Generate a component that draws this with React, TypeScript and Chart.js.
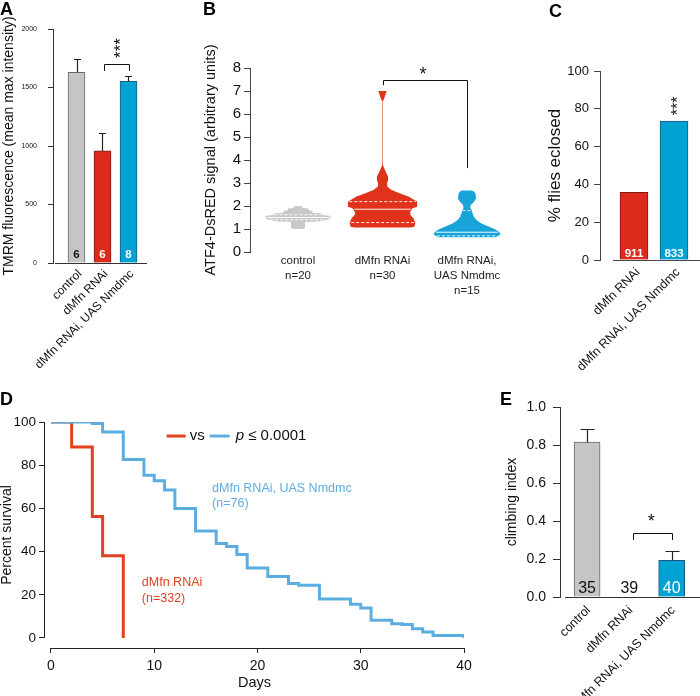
import React, { useEffect, useRef } from "react";
import { Chart, registerables } from "chart.js";

Chart.register(...registerables);

const FAM = "'Liberation Sans', Arial, Helvetica, sans-serif";
const CW = 700;
const CH = 696;

// ================= DATA =================
// Panel A - TMRM fluorescence
const aCategories = ["control", "dMfn RNAi", "dMfn RNAi, UAS Nmdmc"];
const aMeans = [1630, 958, 1553];
const aErrors = [110, 154, 42];
const aCounts = ["6", "6", "8"];
const aYTicks = [0, 500, 1000, 1500, 2000];
const aBracketX = [1.06, 2.02];
const aBracketY = [1641, 1701, 1641];
const aStarsAt = [1.56, 1838];

// Panel B - ATF4-DsRED violins
const bCategories = [["control", "n=20"], ["dMfn RNAi", "n=30"], ["dMfn RNAi,", "UAS Nmdmc", "n=15"]];
const bYTicks = [0, 1, 2, 3, 4, 5, 6, 7, 8];
const bControlLevels = [1.0, 1.04, 1.3, 1.33, 1.38, 1.42, 1.5, 1.58, 1.61, 1.68, 1.7, 1.79, 1.81, 1.89, 1.91, 1.98, 2.0];
const bControlDensity = [0.14, 0.2, 0.2, 0.57, 0.77, 0.89, 0.94, 0.91, 0.71, 0.66, 0.43, 0.4, 0.31, 0.29, 0.14, 0.11, 0.03];
const bRnaiLevels = [1.06, 1.1, 1.25, 1.46, 1.61, 1.75, 1.9, 1.97, 2.19, 2.26, 2.41, 2.55, 2.7, 2.84, 2.99, 3.13, 3.28, 3.42, 3.57, 3.71, 3.8, 6.58, 6.6, 7.0];
const bRnaiDensity = [0.8, 0.91, 0.94, 0.89, 0.8, 0.79, 0.86, 0.99, 0.99, 0.91, 0.74, 0.49, 0.26, 0.14, 0.13, 0.16, 0.16, 0.11, 0.07, 0.03, 0.008, 0.008, 0.03, 0.12];
const bRescueLevels = [0.64, 0.7, 0.78, 0.88, 0.99, 1.1, 1.25, 1.39, 1.54, 1.68, 1.83, 1.94, 2.04, 2.19, 2.33, 2.55, 2.63, 2.67];
const bRescueDensity = [0.8, 0.89, 0.96, 0.91, 0.8, 0.63, 0.4, 0.27, 0.19, 0.16, 0.13, 0.09, 0.11, 0.2, 0.26, 0.24, 0.2, 0.14];
const bQuartiles = [[1.4, 1.5, 1.62], [1.28, 1.86, 2.19], [0.7, 0.86, 1.8]];
const bBracketX = [2, 3];
const bBracketY = [7.25, 7.5, 3.65];
const bStarAt = [2.48, 7.87];

// Panel C - % flies eclosed
const cCategories = ["dMfn RNAi", "dMfn RNAi, UAS Nmdmc"];
const cPercent = [35.8, 73.5];
const cCounts = ["911", "833"];
const cYTicks = [0, 20, 40, 60, 80, 100];
const cStarsAt = [1.02, 81.5];

// Panel D - survival
const dDayTicks = [0, 10, 20, 30, 40];
const dSurvivalTicks = [0, 20, 40, 60, 80, 100];
const dRnaiDays = [0, 2, 4, 5, 7];
const dRnaiSurvival = [100, 88.4, 56.3, 38.1, 0];
const dRescueDays = [0, 4, 5, 7, 9, 10, 11, 12, 14, 16, 17, 18, 19, 21, 23, 24, 26, 29, 30, 31, 33, 34, 35, 36, 37, 40];
const dRescueSurvival = [100, 99.3, 95.4, 82.6, 75.3, 72.8, 68.5, 59.9, 49.5, 43.8, 42.4, 38.6, 32.4, 28.5, 25.2, 24.4, 18.1, 15.6, 13.9, 8.2, 6.6, 6.2, 4.3, 2.8, 1.2, 0];
const dLegendAt = [11.2, 93.5];
const dRescueLabel = ["dMfn RNAi, UAS Nmdmc", "(n=76)"];
const dRescueLabelAt = [15.6, 69.4];
const dRnaiLabel = ["dMfn RNAi", "(n=332)"];
const dRnaiLabelAt = [8.8, 25.8];

// Panel E - climbing index
const eCategories = ["control", "dMfn RNAi", "dMfn RNAi, UAS Nmdmc"];
const eMeans = [0.815, 0, 0.193];
const eErrors = [0.071, 0, 0.048];
const eCounts = ["35", "39", "40"];
const eYTicks = [0, 0.2, 0.4, 0.6, 0.8, 1.0];
const eBracketX = [1.09, 2];
const eBracketY = [0.3, 0.337, 0.3];
const eStarAt = [1.515, 0.416];

// ================= STYLE =================
const GREY = "#c5c5c5";
const GREY_EDGE = "#6a6a6a";
const RED = "#dc2b1c";
const RED_EDGE = "#7e1a10";
const BLUE = "#00a1d3";
const BLUE_EDGE = "#1b5a7c";
const D_RED = "#e2401f";
const D_BLUE = "#5caee0";
const INK = "#111";

Chart.defaults.font.family = FAM;

type Area = { left: number; top: number; right: number; bottom: number };

function pad(area: Area, yW: number, xH: number) {
  return { left: area.left - yW, top: area.top, right: CW - area.right, bottom: CH - area.bottom - xH };
}

function drawLetter(ctx: any, t: string, x: number, y: number) {
  ctx.save();
  ctx.font = `bold 18px ${FAM}`;
  ctx.fillStyle = "#000";
  ctx.textAlign = "left";
  ctx.textBaseline = "alphabetic";
  ctx.fillText(t, x, y);
  ctx.restore();
}

// draws asterisks so that the glyph centre lands on (px, py)
function drawStars(ctx: any, t: string, px: number, py: number, size: number, rotate: boolean) {
  ctx.save();
  ctx.font = `${size}px ${FAM}`;
  ctx.fillStyle = INK;
  const lift = 0.23 * size;
  if (rotate) {
    ctx.translate(px + lift, py);
    ctx.rotate(-Math.PI / 2);
  } else {
    ctx.translate(px, py + lift);
  }
  ctx.textAlign = "center";
  ctx.textBaseline = "middle";
  ctx.fillText(t, 0, 0);
  ctx.restore();
}

function drawBracket(ctx: any, xs: any, ys: any, bx: number[], by: number[]) {
  const x1 = Math.round(xs.getPixelForValue(bx[0])) + 0.5;
  const x2 = Math.round(xs.getPixelForValue(bx[1])) + 0.5;
  const yt = Math.round(ys.getPixelForValue(by[1])) + 0.5;
  ctx.save();
  ctx.strokeStyle = INK;
  ctx.lineWidth = 1;
  ctx.beginPath();
  ctx.moveTo(x1, ys.getPixelForValue(by[0]));
  ctx.lineTo(x1, yt);
  ctx.lineTo(x2, yt);
  ctx.lineTo(x2, ys.getPixelForValue(by[2]));
  ctx.stroke();
  ctx.restore();
}

// ================= BAR PANELS =================
function barConfig(cfg: any) {
  const extras = {
    id: "barExtras",
    afterDatasetsDraw(chart: any) {
      const ctx = chart.ctx;
      const xs = chart.scales.x;
      const ys = chart.scales.y;
      const area = chart.chartArea;
      ctx.save();
      // x axis base line
      const yb = Math.round(ys.getPixelForValue(0)) + 0.5;
      ctx.strokeStyle = cfg.axisColor;
      ctx.lineWidth = 1;
      ctx.beginPath();
      ctx.moveTo(xs.getPixelForValue(cfg.baseFrom), yb);
      ctx.lineTo(area.right, yb);
      ctx.stroke();
      // error bars (upper only)
      ctx.strokeStyle = "#222";
      ctx.lineWidth = 1.2;
      cfg.means.forEach((m: number, i: number) => {
        const e = cfg.errors ? cfg.errors[i] : 0;
        if (!e) return;
        const x = Math.round(xs.getPixelForValue(i)) + 0.5;
        const y1 = ys.getPixelForValue(m);
        const y2 = Math.round(ys.getPixelForValue(m + e)) + 0.5;
        ctx.beginPath();
        ctx.moveTo(x, y1);
        ctx.lineTo(x, y2);
        ctx.moveTo(x - cfg.capHalf, y2);
        ctx.lineTo(x + cfg.capHalf, y2);
        ctx.stroke();
      });
      // n counts
      ctx.font = `${cfg.countFont} ${FAM}`;
      ctx.textAlign = "center";
      ctx.textBaseline = "alphabetic";
      cfg.counts.forEach((t: string, i: number) => {
        ctx.fillStyle = cfg.countColors[i];
        ctx.fillText(t, xs.getPixelForValue(i), ys.getPixelForValue(0) - cfg.countLift);
      });
      ctx.restore();
      if (cfg.bracketX) drawBracket(ctx, xs, ys, cfg.bracketX, cfg.bracketY);
      if (cfg.starsAt) {
        drawStars(ctx, cfg.stars, xs.getPixelForValue(cfg.starsAt[0]), ys.getPixelForValue(cfg.starsAt[1]), cfg.starSize, cfg.starRotate);
      }
      drawLetter(ctx, cfg.letter[0], cfg.letter[1], cfg.letter[2]);
    },
  };
  return {
    type: "bar",
    data: {
      datasets: [
        {
          data: cfg.means.map((v: number, i: number) => ({ x: i, y: v })),
          backgroundColor: cfg.fills,
          borderColor: cfg.edges,
          borderWidth: 1,
          barThickness: cfg.barPx,
        },
      ],
    },
    options: {
      responsive: false,
      animation: false,
      events: [],
      layout: { padding: pad(cfg.area, cfg.yW, cfg.xH) },
      plugins: { legend: { display: false }, tooltip: { enabled: false } },
      scales: {
        x: {
          type: "linear",
          min: cfg.xMin,
          max: cfg.xMax,
          offset: false,
          afterBuildTicks: (s: any) => {
            s.ticks = cfg.cats.map((_: string, i: number) => ({ value: i }));
          },
          afterFit: (s: any) => {
            s.height = cfg.xH;
          },
          grid: { display: false, drawTicks: false, offset: false },
          border: { display: false },
          ticks: {
            autoSkip: false,
            minRotation: 45,
            maxRotation: 45,
            padding: cfg.xPad,
            labelOffset: cfg.xLabelOffset,
            font: { family: FAM, size: cfg.xFont },
            color: INK,
            callback: (v: number) => cfg.cats[v],
          },
        },
        y: {
          min: 0,
          max: cfg.yMax,
          afterBuildTicks: (s: any) => {
            s.ticks = cfg.yTicks.map((v: number) => ({ value: v }));
          },
          afterFit: (s: any) => {
            s.width = cfg.yW;
          },
          grid: { drawOnChartArea: false, drawTicks: true, tickLength: cfg.yTickLen, color: cfg.axisColor, lineWidth: 1 },
          border: { display: true, color: cfg.axisColor, width: 1 },
          ticks: {
            padding: cfg.yPad,
            font: { family: FAM, size: cfg.yFont },
            color: INK,
            callback: cfg.yFormat,
          },
          title: {
            display: true,
            text: cfg.yTitle,
            font: { family: FAM, size: cfg.yTitleSize, lineHeight: 1.2 },
            color: INK,
            padding: { top: cfg.yTitlePad, bottom: 0 },
          },
        },
      },
    },
    plugins: [extras],
  };
}

function buildA() {
  return barConfig({
    cats: aCategories,
    means: aMeans,
    errors: aErrors,
    counts: aCounts,
    countColors: [INK, "#fff", "#fff"],
    countFont: "bold 11.5px",
    countLift: 5,
    fills: [GREY, RED, BLUE],
    edges: [GREY_EDGE, RED_EDGE, BLUE_EDGE],
    area: { left: 53, top: 29, right: 147, bottom: 263 },
    yW: 53,
    xH: 110,
    xMin: -0.904,
    xMax: 2.712,
    barPx: 17,
    yMax: 2000,
    yTicks: aYTicks,
    yFont: 7,
    yTickLen: 5,
    yPad: 11,
    yFormat: (v: number) => String(v),
    yTitle: "TMRM fluorescence (mean max intensity)",
    yTitleSize: 14,
    yTitlePad: 0.5,
    xFont: 12,
    xPad: 4,
    xLabelOffset: 3.5,
    capHalf: 3.5,
    axisColor: "#333",
    baseFrom: -0.83,
    bracketX: aBracketX,
    bracketY: aBracketY,
    stars: "***",
    starsAt: aStarsAt,
    starSize: 17,
    starRotate: true,
    letter: ["A", 0, 15],
  });
}

function buildC() {
  return barConfig({
    cats: cCategories,
    means: cPercent,
    errors: null,
    counts: cCounts,
    countColors: ["#fff", "#fff"],
    countFont: "bold 11.5px",
    countLift: 3.5,
    fills: [RED, BLUE],
    edges: [RED_EDGE, BLUE_EDGE],
    area: { left: 600, top: 71, right: 700, bottom: 260 },
    yW: 60,
    xH: 110,
    xMin: -0.85,
    xMax: 1.65,
    barPx: 28,
    yMax: 100,
    yTicks: cYTicks,
    yFont: 13,
    yTickLen: 6,
    yPad: 5,
    yFormat: (v: number) => String(v),
    yTitle: "% flies eclosed",
    yTitleSize: 17,
    yTitlePad: 5,
    xFont: 12.5,
    xPad: 5,
    xLabelOffset: 4,
    capHalf: 4,
    axisColor: "#444",
    baseFrom: -0.525,
    stars: "***",
    starsAt: cStarsAt,
    starSize: 16,
    starRotate: true,
    letter: ["C", 549, 17],
  });
}

function buildE() {
  return barConfig({
    cats: eCategories,
    means: eMeans,
    errors: eErrors,
    counts: eCounts,
    countColors: [INK, INK, "#fff"],
    countFont: "16px",
    countLift: 4.3,
    fills: [GREY, RED, BLUE],
    edges: [GREY_EDGE, RED_EDGE, BLUE_EDGE],
    area: { left: 560, top: 407, right: 700, bottom: 597 },
    yW: 60,
    xH: 99,
    xMin: -0.64,
    xMax: 2.67,
    barPx: 26,
    yMax: 1,
    yTicks: eYTicks,
    yFont: 14,
    yTickLen: 7,
    yPad: 7,
    yFormat: (v: number) => v.toFixed(1),
    yTitle: "climbing index",
    yTitleSize: 14,
    yTitlePad: 3.6,
    xFont: 12.5,
    xPad: 6,
    xLabelOffset: 1.5,
    capHalf: 7,
    axisColor: "#333",
    baseFrom: -0.52,
    bracketX: eBracketX,
    bracketY: eBracketY,
    stars: "*",
    starsAt: eStarAt,
    starSize: 18,
    starRotate: false,
    letter: ["E", 500, 405],
  });
}

// ================= VIOLIN PANEL =================
function violinPolygon(center: number, levels: number[], dens: number[], half: number) {
  const left = levels.map((v, i) => ({ x: center - dens[i] * half, y: v }));
  const right = levels.map((v, i) => ({ x: center + dens[i] * half, y: v })).reverse();
  return [...left, ...right];
}

function densityAt(levels: number[], dens: number[], v: number) {
  for (let i = 0; i < levels.length - 1; i++) {
    if (v >= levels[i] && v <= levels[i + 1]) {
      const t = (v - levels[i]) / (levels[i + 1] - levels[i]);
      return dens[i] + t * (dens[i + 1] - dens[i]);
    }
  }
  return 0;
}

function buildB() {
  const half = 0.414;
  const area = { left: 250, top: 68, right: 520, bottom: 252 };
  const yW = 50;
  const xH = 60;
  const profiles: any[] = [
    [bControlLevels, bControlDensity],
    [bRnaiLevels, bRnaiDensity],
    [bRescueLevels, bRescueDensity],
  ];
  const colors = ["#c9c9c9", "#e1321c", "#18a3d9"];
  const datasets: any[] = [];
  profiles.forEach(([lv, dn]: any, i: number) => {
    datasets.push({
      data: violinPolygon(i + 1, lv, dn, half),
      showLine: true,
      fill: "shape",
      backgroundColor: colors[i],
      borderColor: "rgba(0,0,0,0)",
      borderWidth: 0,
      pointRadius: 0,
      tension: 0,
      order: 1,
    });
  });
  profiles.forEach(([lv, dn]: any, i: number) => {
    bQuartiles[i].forEach((q: number, k: number) => {
      const w = densityAt(lv, dn, q) * half * 0.96;
      datasets.push({
        data: [
          { x: i + 1 - w, y: q },
          { x: i + 1 + w, y: q },
        ],
        showLine: true,
        fill: false,
        borderColor: "rgba(255,255,255,0.92)",
        borderWidth: 1,
        borderDash: k === 1 ? [] : [3, 2],
        pointRadius: 0,
        order: 0,
      });
    });
  });
  const extras = {
    id: "violinExtras",
    afterDatasetsDraw(chart: any) {
      const ctx = chart.ctx;
      const xs = chart.scales.x;
      const ys = chart.scales.y;
      drawBracket(ctx, xs, ys, bBracketX, bBracketY);
      drawStars(ctx, "*", xs.getPixelForValue(bStarAt[0]), ys.getPixelForValue(bStarAt[1]), 18, false);
      drawLetter(ctx, "B", 203, 15);
    },
  };
  return {
    type: "scatter",
    data: { datasets },
    options: {
      responsive: false,
      animation: false,
      events: [],
      layout: { padding: pad(area, yW, xH) },
      plugins: { legend: { display: false }, tooltip: { enabled: false } },
      scales: {
        x: {
          type: "linear",
          min: 0.432,
          max: 3.627,
          afterBuildTicks: (s: any) => {
            s.ticks = bCategories.map((_, i) => ({ value: i + 1 }));
          },
          afterFit: (s: any) => {
            s.height = xH;
          },
          grid: { display: false, drawTicks: false },
          border: { display: false },
          ticks: {
            autoSkip: false,
            maxRotation: 0,
            minRotation: 0,
            padding: 1,
            font: { family: FAM, size: 11.5, lineHeight: 1.3 },
            color: "#222",
            callback: (v: number) => bCategories[v - 1],
          },
        },
        y: {
          min: 0,
          max: 8,
          afterBuildTicks: (s: any) => {
            s.ticks = bYTicks.map((v) => ({ value: v }));
          },
          afterFit: (s: any) => {
            s.width = yW;
          },
          grid: { drawOnChartArea: false, drawTicks: true, tickLength: 6, color: "#444" },
          border: { display: true, color: "#444", width: 1 },
          ticks: { padding: 3, font: { family: FAM, size: 15 }, color: INK, callback: (v: number) => String(v) },
          title: {
            display: true,
            text: "ATF4-DsRED signal (arbitrary units)",
            font: { family: FAM, size: 14.5, lineHeight: 1.2 },
            color: INK,
            padding: { top: 2.3, bottom: 0 },
          },
        },
      },
    },
    plugins: [extras],
  };
}

// ================= SURVIVAL PANEL =================
function buildD() {
  const area = { left: 45, top: 422, right: 464, bottom: 648 };
  const yW = 45;
  const xH = 44;
  const extras = {
    id: "survivalExtras",
    afterDatasetsDraw(chart: any) {
      const ctx = chart.ctx;
      const xs = chart.scales.x;
      const ys = chart.scales.y;
      const a = chart.chartArea;
      ctx.save();
      ctx.strokeStyle = "#222";
      ctx.lineWidth = 1;
      // x axis line spanning the day range
      const yb = Math.round(a.bottom) + 0.5;
      ctx.beginPath();
      ctx.moveTo(xs.getPixelForValue(dDayTicks[0]), yb);
      ctx.lineTo(xs.getPixelForValue(dDayTicks[dDayTicks.length - 1]), yb);
      ctx.stroke();
      // y axis line spanning 0..100
      const xl = Math.round(a.left) - 0.5;
      ctx.beginPath();
      ctx.moveTo(xl, ys.getPixelForValue(dSurvivalTicks[0]));
      ctx.lineTo(xl, ys.getPixelForValue(dSurvivalTicks[dSurvivalTicks.length - 1]));
      ctx.stroke();

      // legend: red line  vs  blue line  p ≤ 0.0001
      const lx = xs.getPixelForValue(dLegendAt[0]);
      const ly = ys.getPixelForValue(dLegendAt[1]);
      ctx.lineWidth = 3;
      ctx.strokeStyle = D_RED;
      ctx.beginPath();
      ctx.moveTo(lx, ly);
      ctx.lineTo(lx + 19, ly);
      ctx.stroke();
      ctx.font = `15px ${FAM}`;
      ctx.fillStyle = INK;
      ctx.textAlign = "left";
      ctx.textBaseline = "middle";
      ctx.fillText("vs", lx + 23, ly);
      ctx.strokeStyle = D_BLUE;
      ctx.beginPath();
      ctx.moveTo(lx + 43, ly);
      ctx.lineTo(lx + 63, ly);
      ctx.stroke();
      ctx.font = `italic 15px ${FAM}`;
      ctx.fillText("p", lx + 69, ly);
      const pw = ctx.measureText("p").width;
      ctx.font = `15px ${FAM}`;
      ctx.fillText(" \u2264 0.0001", lx + 69 + pw, ly);

      // curve labels
      ctx.font = `12.5px ${FAM}`;
      ctx.fillStyle = D_BLUE;
      const bx = xs.getPixelForValue(dRescueLabelAt[0]);
      const by = ys.getPixelForValue(dRescueLabelAt[1]);
      dRescueLabel.forEach((t, i) => ctx.fillText(t, bx, by + i * 15.5));
      ctx.fillStyle = D_RED;
      const rx = xs.getPixelForValue(dRnaiLabelAt[0]);
      const ry = ys.getPixelForValue(dRnaiLabelAt[1]);
      dRnaiLabel.forEach((t, i) => ctx.fillText(t, rx, ry + i * 16.4));
      ctx.restore();
      drawLetter(ctx, "D", 0, 405);
    },
  };
  return {
    type: "line",
    data: {
      datasets: [
        {
          data: dRescueDays.map((d, i) => ({ x: d, y: dRescueSurvival[i] })),
          borderColor: D_BLUE,
          borderWidth: 3,
          stepped: "before",
          pointRadius: 0,
          fill: false,
        },
        {
          data: dRnaiDays.map((d, i) => ({ x: d, y: dRnaiSurvival[i] })),
          borderColor: D_RED,
          borderWidth: 3,
          stepped: "before",
          pointRadius: 0,
          fill: false,
        },
      ],
    },
    options: {
      responsive: false,
      animation: false,
      events: [],
      layout: { padding: pad(area, yW, xH) },
      plugins: { legend: { display: false }, tooltip: { enabled: false } },
      scales: {
        x: {
          type: "linear",
          min: -0.58,
          max: 40,
          afterBuildTicks: (s: any) => {
            s.ticks = dDayTicks.map((v) => ({ value: v }));
          },
          afterFit: (s: any) => {
            s.height = xH;
          },
          grid: { drawOnChartArea: false, drawTicks: true, tickLength: 5, color: "#222" },
          border: { display: false },
          ticks: { autoSkip: false, maxRotation: 0, minRotation: 0, padding: 5, font: { family: FAM, size: 14 }, color: INK },
          title: { display: true, text: "Days", font: { family: FAM, size: 14.5, lineHeight: 1.2 }, color: INK, padding: 0 },
        },
        y: {
          min: -4.63,
          max: 100,
          afterBuildTicks: (s: any) => {
            s.ticks = dSurvivalTicks.map((v) => ({ value: v }));
          },
          afterFit: (s: any) => {
            s.width = yW;
          },
          grid: { drawOnChartArea: false, drawTicks: true, tickLength: 6, color: "#222" },
          border: { display: false },
          ticks: { padding: 3, font: { family: FAM, size: 13.5 }, color: INK, callback: (v: number) => String(v) },
          title: { display: true, text: "Percent survival", font: { family: FAM, size: 14, lineHeight: 1 }, color: INK, padding: 0 },
        },
      },
    },
    plugins: [extras],
  };
}

// ================= REACT =================
function ChartLayer({ build }: { build: () => any }) {
  const ref = useRef<HTMLCanvasElement>(null);
  useEffect(() => {
    const chart = new Chart(ref.current as HTMLCanvasElement, build());
    return () => chart.destroy();
  }, []);
  return <canvas ref={ref} width={CW} height={CH} style={{ position: "absolute", left: 0, top: 0 }} />;
}

export default function App() {
  return (
    <div style={{ position: "fixed", left: 0, top: 0, width: CW, height: CH, background: "#fff", overflow: "hidden" }}>
      <ChartLayer build={buildA} />
      <ChartLayer build={buildB} />
      <ChartLayer build={buildC} />
      <ChartLayer build={buildD} />
      <ChartLayer build={buildE} />
    </div>
  );
}
